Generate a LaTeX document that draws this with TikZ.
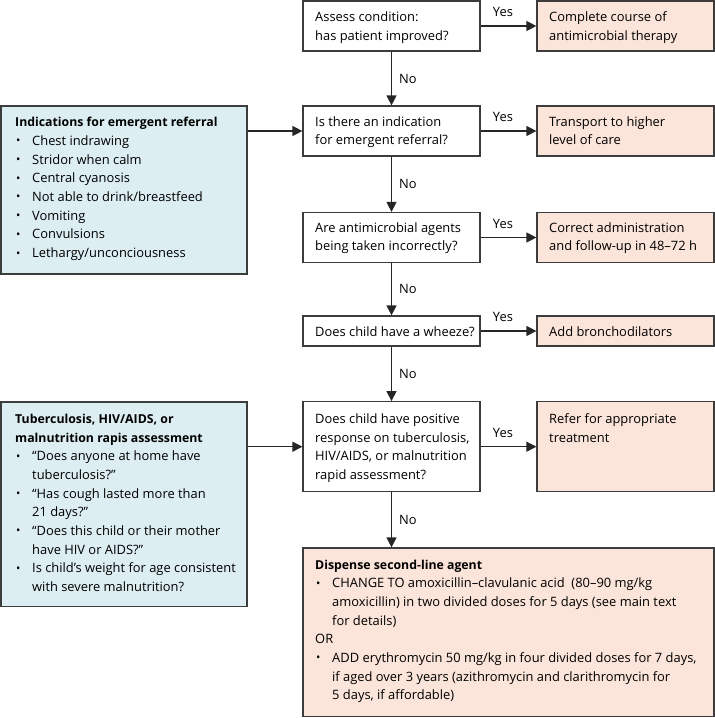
\documentclass[tikz,border=0pt]{standalone}
\usepackage{fontspec}
\setmainfont{Open Sans}
\usetikzlibrary{arrows.meta}
\definecolor{bluefill}{RGB}{221,238,243}
\definecolor{pinkfill}{RGB}{251,228,217}
\definecolor{edgecol}{RGB}{60,60,60}
\newcommand{\fs}{\fontsize{12.9}{18.7}\selectfont}
\newcommand{\bul}{\makebox[17pt][l]{\hspace{1pt}\raisebox{0.6pt}{\fontsize{11.5}{11.5}\selectfont\textbullet}}}
\newcommand{\ind}{\hspace*{17pt}}
\newcommand{\lns}[1]{\begin{tabular}[t]{@{}l@{}}#1\end{tabular}}
\newcommand{\hd}[1]{{\fontsize{12.3}{18.7}\selectfont\bfseries #1}}
\tikzset{
  boxbase/.style={draw=edgecol, line width=1.2pt, inner sep=0pt},
  qbox/.style={boxbase, fill=white, minimum width=177pt},
  rbox/.style={boxbase, fill=pinkfill, minimum width=177pt},
  bbox/.style={boxbase, fill=bluefill},
  txt/.style={anchor=base west, inner sep=0pt, font=\fs},
  lbl/.style={inner sep=1pt, font=\fs},
  arr/.style={draw=black!85, line width=1.2pt, -{Triangle[length=10pt,width=10pt]}}
}
\begin{document}
\begin{tikzpicture}[x=1pt,y=-1pt]
\useasboundingbox (0,0) rectangle (715,718);
% main column
\node[qbox, minimum height=50pt] (q1) at (391.5,26) {};
\node[rbox, minimum height=50pt] (r1) at (625.5,26) {};
\node[qbox, minimum height=50pt] (q2) at (391.5,131) {};
\node[rbox, minimum height=50pt] (r2) at (625.5,131) {};
\node[qbox, minimum height=50pt] (q3) at (391.5,237.5) {};
\node[rbox, minimum height=50pt] (r3) at (625.5,237.5) {};
\node[qbox, minimum height=30pt] (q4) at (391.5,331) {};
\node[rbox, minimum height=30pt] (r4) at (625.5,331) {};
\node[qbox, minimum height=90pt] (q5) at (391.5,446.7) {};
\node[rbox, minimum height=90pt] (r5) at (625.5,446.7) {};
\node[boxbase, fill=pinkfill, minimum width=411pt, minimum height=168.5pt] (q6) at (508.5,632.25) {};
% left boxes
\node[bbox, minimum width=246pt, minimum height=168pt] (A) at (124,190) {};
\node[bbox, minimum width=246pt, minimum height=204.5pt] (B) at (124,504.25) {};

% texts
\node[txt] (tq1) at (315,21.7) {\lns{Assess condition:\\has patient improved?}};
\node[txt] (tr1) at (549,21.7) {\lns{Complete course of\\antimicrobial therapy}};
\node[txt] (tq2) at (315,126) {\lns{Is there an indication\\for emergent referral?}};
\node[txt] (tr2) at (549,126) {\lns{Transport to higher\\level of care}};
\node[txt] (tq3) at (315,232.2) {\lns{Are antimicrobial agents\\being taken incorrectly?}};
\node[txt] (tr3) at (549,232.2) {\lns{Correct administration\\and follow-up in 48--72 h}};
\node[txt] (tq4) at (315,336) {Does child have a wheeze?};
\node[txt] (tr4) at (549,336) {Add bronchodilators};
\node[txt] (tq5) at (315,423.5) {\lns{Does child have positive\\response on tuberculosis,\\HIV/AIDS, or malnutrition\\rapid assessment?}};
\node[txt] (tr5) at (549,423.5) {\lns{Refer for appropriate\\treatment}};
\node[txt] (tq6) at (315,569) {\lns{\hd{Dispense second-line agent}\\
\bul CHANGE TO amoxicillin--clavulanic acid \ (80--90 mg/kg\\
\ind amoxicillin) in two divided doses for 5 days (see main text\\
\ind for details)\\
OR\\
\bul ADD erythromycin 50 mg/kg in four divided doses for 7 days,\\
\ind if aged over 3 years (azithromycin and clarithromycin for\\
\ind 5 days, if affordable)}};
\node[txt] (tA) at (15,126.7) {\lns{\hd{Indications for emergent referral}\\
\bul Chest indrawing\\
\bul Stridor when calm\\
\bul Central cyanosis\\
\bul Not able to drink/breastfeed\\
\bul Vomiting\\
\bul Convulsions\\
\bul Lethargy/unconciousness}};
\node[txt] (tB) at (15,423.3) {\lns{\hd{Tuberculosis, HIV/AIDS, or}\\
\hd{malnutrition rapis assessment}\\
\bul ``Does anyone at home have\\
\ind tuberculosis?''\\
\bul ``Has cough lasted more than\\
\ind 21 days?''\\
\bul ``Does this child or their mother\\
\ind have HIV or AIDS?''\\
\bul Is child’s weight for age consistent\\
\ind with severe malnutrition?}};

% connectors
\draw[arr] (q1) -- node[lbl, right=6pt] (n1) {No} (q2);
\draw[arr] (q2) -- node[lbl, right=6pt] (n2) {No} (q3);
\draw[arr] (q3) -- node[lbl, right=6pt] (n3) {No} (q4);
\draw[arr] (q4) -- node[lbl, right=6pt] (n4) {No} (q5);
\draw[arr] (q5.south) -- node[lbl, right=6pt] (n5) {No} (q5.south |- q6.north);
\draw[arr] (q1) -- node[lbl, above=7.5pt, pos=0.4] (y1) {Yes} (r1);
\draw[arr] (q2) -- node[lbl, above=7.5pt, pos=0.4] (y2) {Yes} (r2);
\draw[arr] (q3) -- node[lbl, above=7.5pt, pos=0.4] (y3) {Yes} (r3);
\draw[arr] (q4) -- node[lbl, above=7.5pt, pos=0.4] (y4) {Yes} (r4);
\draw[arr] (q5) -- node[lbl, above=7.5pt, pos=0.4] (y5) {Yes} (r5);
\draw[arr] (A.east |- q2.west) -- (q2.west);
\draw[arr] (B.east |- q5.west) -- (q5.west);
\end{tikzpicture}
\end{document}
